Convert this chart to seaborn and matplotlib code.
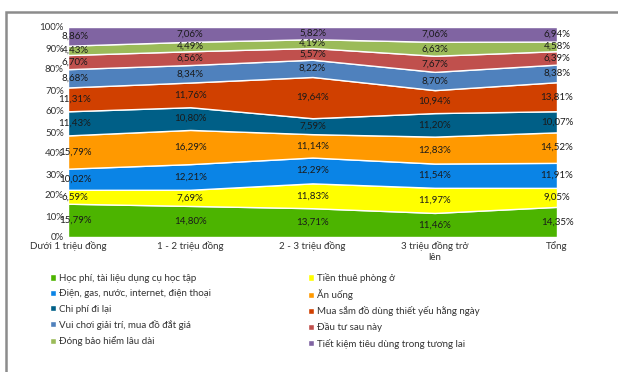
import numpy as np
import seaborn as sns
import matplotlib.pyplot as plt
from matplotlib.patches import Rectangle

categories = ["Dưới 1 triệu đồng", "1 - 2 triệu đồng", "2 - 3 triệu đồng",
              "3 triệu đồng trở\nlên", "Tổng"]

series_names = [
    "Học phí, tài liệu dụng cụ học tập",
    "Tiền thuê phòng ở",
    "Điện, gas, nước, internet, điện thoại",
    "Ăn uống",
    "Chi phí đi lại",
    "Mua sắm đồ dùng thiết yếu hằng ngày",
    "Vui chơi giải trí, mua đồ đắt giá",
    "Đầu tư sau này",
    "Đóng bảo hiểm lâu dài",
    "Tiết kiệm tiêu dùng trong tương lai",
]

hoc_phi = [15.79, 14.80, 13.71, 11.46, 14.35]
thue_phong = [6.59, 7.69, 11.83, 11.97, 9.05]
dien_gas = [10.02, 12.21, 12.29, 11.54, 11.91]
an_uong = [15.79, 16.29, 11.14, 12.83, 14.52]
di_lai = [11.43, 10.80, 7.59, 11.20, 10.07]
mua_sam = [11.31, 11.76, 19.64, 10.94, 13.81]
vui_choi = [8.68, 8.34, 8.22, 8.70, 8.38]
dau_tu = [6.70, 6.56, 5.57, 7.67, 6.39]
bao_hiem = [4.43, 4.49, 4.19, 6.63, 4.58]
tiet_kiem = [8.86, 7.06, 5.82, 7.06, 6.94]

colors = ["#4cb400", "#ffff00", "#0a84e6", "#ff9900", "#005f87",
          "#d04000", "#4f81bd", "#c0504d", "#9bbb59", "#8064a2"]

sns.set_theme(style="white")
plt.rcParams["font.family"] = ["Lato", "DejaVu Sans"]

data = np.array([hoc_phi, thue_phong, dien_gas, an_uong, di_lai,
                 mua_sam, vui_choi, dau_tu, bao_hiem, tiet_kiem])
shares = data / data.sum(axis=0) * 100  # 100% stacked
x = np.arange(len(categories))

fig = plt.figure(figsize=(6.18, 3.72), dpi=100)
ax = fig.add_axes([68 / 618, 1 - 237 / 372, (557 - 68) / 618, (237 - 27) / 372])

polys = ax.stackplot(x, shares, colors=sns.color_palette(colors), labels=series_names)

# data labels in the middle of each band (first column nudged right like Excel)
cum = np.cumsum(shares, axis=0)
for i in range(len(series_names)):
    for j in range(len(categories)):
        mid = cum[i, j] - shares[i, j] / 2
        ax.annotate(f"{data[i, j]:.2f}".replace(".", ",") + "%", (x[j], mid),
                    xytext=(5 if j == 0 else 0, 0), textcoords="offset points",
                    ha="center", va="center", fontsize=7, color="#1a1a1a")

ax.set_xlim(0, len(categories) - 1)
ax.set_ylim(0, 100)
ax.set_yticks(range(0, 101, 10))
ax.set_yticklabels([f"{t}%" for t in range(0, 101, 10)], fontsize=7, color="#333333")
ax.set_xticks(x)
ax.set_xticklabels(categories, fontsize=7, color="#333333")
ax.tick_params(axis="both", length=0, pad=3)
for s in ax.spines.values():
    s.set_visible(False)

# legend: row-wise order across two columns
order = [0, 2, 4, 6, 8, 1, 3, 5, 7, 9]
fig.legend([polys[k] for k in order], [series_names[k] for k in order],
           ncol=2, loc="upper left", bbox_to_anchor=(45 / 618, 1 - 268 / 372),
           frameon=False, fontsize=7, handlelength=0.6, handleheight=0.6,
           handletextpad=0.3, columnspacing=10.0, labelspacing=0.65,
           borderpad=0, labelcolor="#333333")

# outer chart border
fig.patches.append(Rectangle((6 / 618, -0.05), 1.1, 1 - 12 / 372 + 0.05,
                             transform=fig.transFigure, fill=False,
                             edgecolor="#8c8c8c", linewidth=1.8))

fig.savefig("out.png", dpi=100)
